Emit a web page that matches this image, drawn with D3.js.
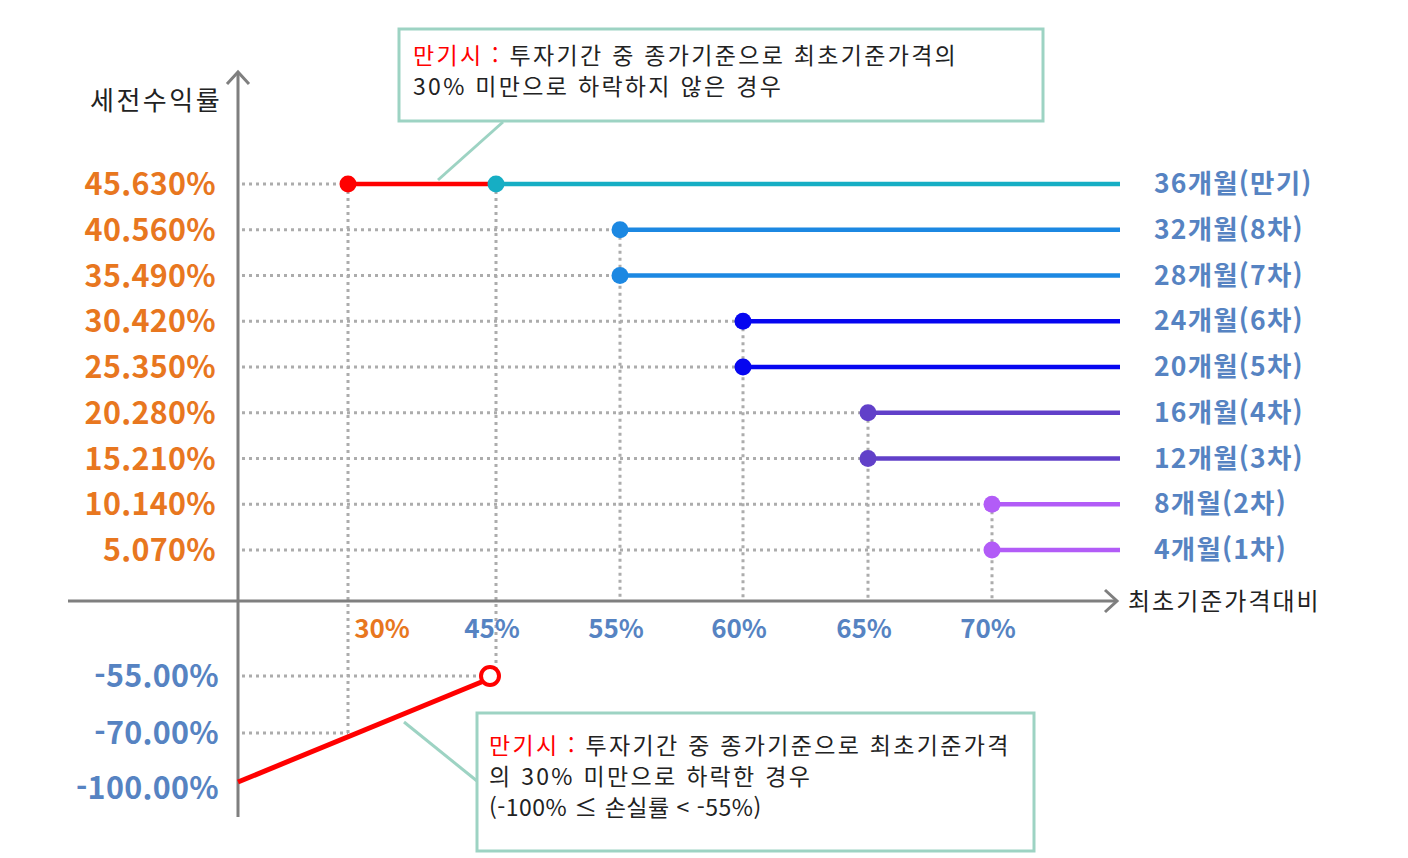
<!DOCTYPE html>
<html lang="ko">
  <head>
    <meta charset="utf-8">
    <script src="https://d3js.org/d3.v7.min.js"></script>
    <style>
      body { margin: 0; background: #fff; }
      text { font-family: "Noto Sans CJK KR", "Noto Sans", sans-serif; }
    </style>
  </head>
  <body>
    <script>

    // data
    var periods = ["36개월(만기)", "32개월(8차)", "28개월(7차)", "24개월(6차)", "20개월(5차)",
                   "16개월(4차)", "12개월(3차)", "8개월(2차)", "4개월(1차)"];
    var returns = [45.63, 40.56, 35.49, 30.42, 25.35, 20.28, 15.21, 10.14, 5.07];
    var barriers = [45, 55, 55, 60, 60, 65, 65, 70, 70];
    var lineColors = ["#16aec4", "#1c88e2", "#1c88e2", "#0606f0", "#0606f0",
                      "#6140c9", "#6140c9", "#b25cf7", "#b25cf7"];

    var xTicks = [30, 45, 55, 60, 65, 70];
    var lossTicks = [-55, -70, -100];
    var lossLine = [[0, -100], [45, -55]];   // loss at maturity
    var knockIn = 30;                        // 30% barrier for 36개월 red segment

    var width = 1408, height = 858;

    // piecewise scales (the reference is not drawn to linear scale)
    var x = d3.scaleLinear()
        .domain([0, 30, 45, 55, 60, 65, 70, 85])
        .range([238, 348, 496, 620, 743, 868, 992, 1120]);
    var y = d3.scaleLinear()
        .domain([-100, -70, -55, 0, 5.07, 45.63])
        .range([782, 733, 676, 601, 550, 184]);

    var svg = d3.select("body").append("svg")
        .attr("width", width)
        .attr("height", height);

    var grid = "#acacac";
    var orange = "#e8771f";
    var blueTxt = "#5683c2";

    // dotted guides
    var gh = svg.append("g")
        .attr("stroke", grid).attr("stroke-width", 3).attr("stroke-dasharray", "3,4");

    returns.forEach(function(r, i) {
      var xe = i == 0 ? knockIn : barriers[i];
      gh.append("line")
        .attr("x1", x(0) + 4).attr("x2", x(xe))
        .attr("y1", y(r)).attr("y2", y(r));
    });
    gh.append("line").attr("x1", x(0) + 4).attr("x2", x(45)).attr("y1", y(-55)).attr("y2", y(-55));
    gh.append("line").attr("x1", x(0) + 4).attr("x2", x(30)).attr("y1", y(-70)).attr("y2", y(-70));

    // verticals
    var verts = [{v: 30, top: 45.63, bot: -70}, {v: 45, top: 45.63, bot: -55}];
    [55, 60, 65, 70].forEach(function(b) {
      var top = d3.max(returns.filter(function(r, i) { return barriers[i] == b; }));
      verts.push({v: b, top: top, bot: 0});
    });
    verts.forEach(function(d) {
      gh.append("line")
        .attr("x1", x(d.v)).attr("x2", x(d.v))
        .attr("y1", y(d.top)).attr("y2", y(d.bot));
    });

    // axes
    var axisCol = "#7f7f7f";
    var ax = svg.append("g").attr("stroke", axisCol).attr("stroke-width", 3).attr("fill", "none");
    ax.append("line").attr("x1", x(0)).attr("x2", x(0)).attr("y1", 72).attr("y2", 817);
    ax.append("path").attr("d", "M" + (x(0) - 11) + ",84 L" + x(0) + ",72 L" + (x(0) + 11) + ",84");
    ax.append("line").attr("x1", 68).attr("x2", 1117).attr("y1", y(0)).attr("y2", y(0));
    ax.append("path").attr("d", "M1105," + (y(0) - 11) + " L1117," + y(0) + " L1105," + (y(0) + 11));

    svg.append("text").attr("x", 90).attr("y", 110)
      .attr("font-size", 26).attr("letter-spacing", 2.5).attr("fill", "#222").text("세전수익률");
    svg.append("text").attr("x", 1128).attr("y", 610)
      .attr("font-size", 24).attr("letter-spacing", 2).attr("fill", "#222").text("최초기준가격대비");

    // y labels
    svg.selectAll(".ylab").data(returns).enter().append("text")
      .attr("class", "ylab")
      .attr("x", 216).attr("y", function(d) { return y(d) + 11; })
      .attr("text-anchor", "end").attr("font-size", 30.5).attr("letter-spacing", 0.3)
      .attr("font-weight", "bold")
      .attr("fill", orange)
      .text(function(d) { return d.toFixed(3) + "%"; });

    svg.selectAll(".nlab").data(lossTicks).enter().append("text")
      .attr("class", "nlab")
      .attr("x", 219).attr("y", function(d) { return y(d) + (d == -100 ? 17 : 11); })
      .attr("text-anchor", "end").attr("font-size", 30.5).attr("letter-spacing", 0.3)
      .attr("font-weight", "bold")
      .attr("fill", blueTxt)
      .text(function(d) { return d.toFixed(2) + "%"; });

    // x labels
    svg.selectAll(".xlab").data(xTicks).enter().append("text")
      .attr("class", "xlab")
      .attr("x", function(d) { return x(d) + (d == 30 ? 34 : -4); })
      .attr("y", 638)
      .attr("text-anchor", "middle").attr("font-size", 26).attr("font-weight", "bold")
      .attr("fill", function(d) { return d == 30 ? orange : blueTxt; })
      .text(function(d) { return d + "%"; });

    // coupon lines
    svg.selectAll(".cl").data(returns).enter().append("line")
      .attr("x1", function(d, i) { return x(barriers[i]); })
      .attr("x2", x(85))
      .attr("y1", function(d) { return y(d); }).attr("y2", function(d) { return y(d); })
      .attr("stroke", function(d, i) { return lineColors[i]; })
      .attr("stroke-width", 4.5);

    // red knock-in segment for maturity
    svg.append("line")
      .attr("x1", x(knockIn)).attr("x2", x(barriers[0]))
      .attr("y1", y(returns[0])).attr("y2", y(returns[0]))
      .attr("stroke", "#f00").attr("stroke-width", 4.5);
    svg.append("circle").attr("cx", x(knockIn)).attr("cy", y(returns[0])).attr("r", 8.5).attr("fill", "#f00");

    svg.selectAll(".dot").data(returns).enter().append("circle")
      .attr("cx", function(d, i) { return x(barriers[i]); })
      .attr("cy", function(d) { return y(d); })
      .attr("r", 8.5)
      .attr("fill", function(d, i) { return lineColors[i]; });

    // loss line
    svg.append("path")
      .attr("d", d3.line().x(function(d) { return x(d[0]); }).y(function(d) { return y(d[1]); })(lossLine))
      .attr("stroke", "#f00").attr("stroke-width", 5).attr("fill", "none");
    svg.append("circle")
      .attr("cx", x(lossLine[1][0]) - 6).attr("cy", y(lossLine[1][1]))
      .attr("r", 9).attr("fill", "#fff").attr("stroke", "#f00").attr("stroke-width", 4);

    // right labels
    svg.selectAll(".rlab").data(periods).enter().append("text")
      .attr("class", "rlab")
      .attr("x", 1154).attr("y", function(d, i) { return y(returns[i]) + 9; })
      .attr("font-size", 26.5).attr("letter-spacing", 1.2).attr("font-weight", "bold").attr("fill", blueTxt)
      .text(function(d) { return d; });

    // callouts
    var boxCol = "#9dd3c3";
    svg.append("line").attr("x1", 503).attr("y1", 122).attr("x2", 438).attr("y2", 180)
      .attr("stroke", boxCol).attr("stroke-width", 3);
    svg.append("rect").attr("x", 399).attr("y", 29).attr("width", 644).attr("height", 92)
      .attr("fill", "#fff").attr("stroke", boxCol).attr("stroke-width", 3);

    var fs = 23, ls = 2.3;
    var t1 = svg.append("text").attr("x", 413).attr("y", 64).attr("font-size", fs)
      .attr("letter-spacing", ls).attr("fill", "#222");
    t1.append("tspan").attr("fill", "#f00").text("만기시 :");
    t1.append("tspan").text(" 투자기간 중 종가기준으로 최초기준가격의");
    svg.append("text").attr("x", 413).attr("y", 95).attr("font-size", fs)
      .attr("letter-spacing", ls).attr("fill", "#222")
      .text("30% 미만으로 하락하지 않은 경우");

    svg.append("line").attr("x1", 404).attr("y1", 722).attr("x2", 477).attr("y2", 781)
      .attr("stroke", boxCol).attr("stroke-width", 3);
    svg.append("rect").attr("x", 477).attr("y", 713).attr("width", 557).attr("height", 138)
      .attr("fill", "#fff").attr("stroke", boxCol).attr("stroke-width", 3);

    var t2 = svg.append("text").attr("x", 489).attr("y", 754).attr("font-size", fs)
      .attr("letter-spacing", ls).attr("fill", "#222");
    t2.append("tspan").attr("fill", "#f00").text("만기시 :");
    t2.append("tspan").text(" 투자기간 중 종가기준으로 최초기준가격");
    svg.append("text").attr("x", 489).attr("y", 785).attr("font-size", fs)
      .attr("letter-spacing", ls).attr("fill", "#222")
      .text("의 30% 미만으로 하락한 경우");
    svg.append("text").attr("x", 489).attr("y", 816).attr("font-size", fs)
      .attr("letter-spacing", 0.5).attr("fill", "#222")
      .text("(-100% ≤ 손실률 < -55%)");

    </script>
  </body>
</html>
